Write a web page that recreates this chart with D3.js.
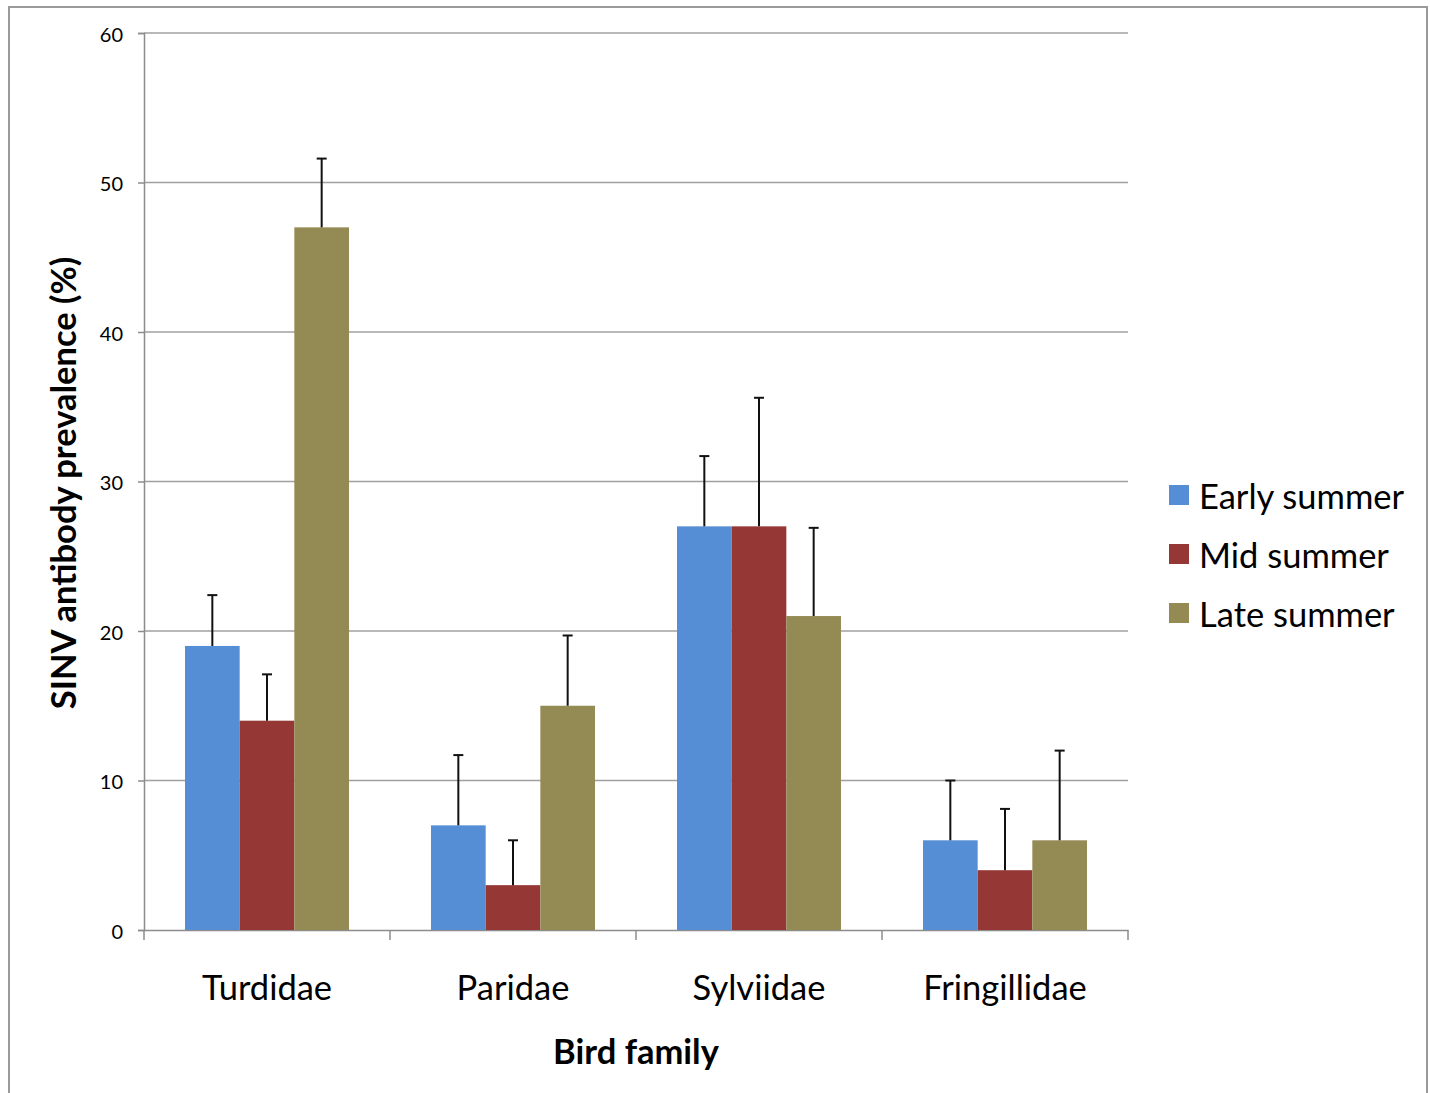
<!DOCTYPE html>
<html>
<head>
<meta charset="utf-8">
<script src="https://cdn.jsdelivr.net/npm/d3@7"></script>
<style>
  body { margin: 0; background: #fff; }
  text { font-family: Lato, "Open Sans", sans-serif; fill: #000; }
</style>
</head>
<body>
<div id="chart"></div>
<script>
// Data
const families = ["Turdidae", "Paridae", "Sylviidae", "Fringillidae"];
const seasons = ["Early summer", "Mid summer", "Late summer"];
const earlyValues = [19, 7, 27, 6];
const midValues = [14, 3, 27, 4];
const lateValues = [47, 15, 21, 6];
const earlyErrTop = [22.4, 11.7, 31.7, 10.0];
const midErrTop = [17.1, 6.0, 35.6, 8.1];
const lateErrTop = [51.6, 19.7, 26.9, 12.0];
const yTicks = [0, 10, 20, 30, 40, 50, 60];

const colors = ["#558ed5", "#953735", "#948a54"];

const width = 1430;
const height = 1093;
const margin = { top: 33, left: 144, right: 302, bottom: 163 };

const rows = [];
families.forEach((f, i) => {
	rows.push({ family: f, season: seasons[0], value: earlyValues[i], err: earlyErrTop[i] });
	rows.push({ family: f, season: seasons[1], value: midValues[i], err: midErrTop[i] });
	rows.push({ family: f, season: seasons[2], value: lateValues[i], err: lateErrTop[i] });
});

const svg = d3
	.select("#chart")
	.append("svg")
	.attr("width", width)
	.attr("height", height);

// Outer frame
svg.append("rect")
	.attr("x", 9)
	.attr("y", 7)
	.attr("width", 1418)
	.attr("height", 1100)
	.attr("fill", "none")
	.attr("stroke", "#9a9a9a")
	.attr("stroke-width", 2);

const x0 = d3
	.scaleBand()
	.domain(families)
	.range([margin.left, width - margin.right])
	.paddingInner(0)
	.paddingOuter(0);

const x1 = d3
	.scaleBand()
	.domain(seasons)
	.range([0, x0.bandwidth()])
	.paddingOuter(0.75)
	.paddingInner(0);

const y = d3
	.scaleLinear()
	.domain([0, 60])
	.range([height - margin.bottom, margin.top]);

const color = d3.scaleOrdinal().domain(seasons).range(colors);

// Gridlines
svg.append("g")
	.selectAll("line")
	.data(yTicks.filter((d) => d > 0))
	.join("line")
	.attr("x1", margin.left)
	.attr("x2", width - margin.right)
	.attr("y1", (d) => y(d))
	.attr("y2", (d) => y(d))
	.attr("stroke", "#a0a0a0")
	.attr("stroke-width", 1.5);

// Y axis
const yAxis = svg.append("g")
	.attr("transform", `translate(${margin.left},0)`)
	.call(d3.axisLeft(y).tickValues(yTicks).tickSize(6).tickPadding(15));
yAxis.select(".domain").attr("stroke", "#8c8c8c").attr("stroke-width", 1.5);
yAxis.selectAll(".tick line").attr("stroke", "#8c8c8c").attr("stroke-width", 1.5);
yAxis.selectAll(".tick text")
	.attr("dy", "0.42em")
	.style("font-family", "Lato, 'Open Sans', sans-serif")
	.style("font-size", "20px")
	.attr("fill", "#000");

// X axis
const xAxis = svg.append("g")
	.attr("transform", `translate(0,${y(0)})`)
	.call(d3.axisBottom(x0).tickSize(0).tickPadding(46));
xAxis.select(".domain").attr("stroke", "#8c8c8c").attr("stroke-width", 1.5);
xAxis.selectAll(".tick text")
	.style("font-family", "Lato, 'Open Sans', sans-serif")
	.style("font-size", "34.5px")
	.attr("fill", "#000");

// Category separators
const sepPositions = families.map((f) => x0(f)).concat([x0.range()[1]]);
xAxis.append("g")
	.selectAll("line")
	.data(sepPositions)
	.join("line")
	.attr("x1", (d) => d)
	.attr("x2", (d) => d)
	.attr("y1", 0)
	.attr("y2", 10)
	.attr("stroke", "#8c8c8c")
	.attr("stroke-width", 1.5);

// Bars
svg.append("g")
	.selectAll("rect")
	.data(rows)
	.join("rect")
	.attr("x", (d) => x0(d.family) + x1(d.season))
	.attr("y", (d) => y(d.value))
	.attr("width", x1.bandwidth())
	.attr("height", (d) => y(0) - y(d.value))
	.attr("fill", (d) => color(d.season));

// Error bars (upper only)
const errG = svg.append("g")
	.selectAll("g")
	.data(rows)
	.join("g")
	.attr("transform", (d) => `translate(${x0(d.family) + x1(d.season) + x1.bandwidth() / 2},0)`);
errG.append("line")
	.attr("x1", 0)
	.attr("x2", 0)
	.attr("y1", (d) => y(d.value))
	.attr("y2", (d) => y(d.err))
	.attr("stroke", "#111")
	.attr("stroke-width", 2);
errG.append("line")
	.attr("x1", -5)
	.attr("x2", 5)
	.attr("y1", (d) => y(d.err))
	.attr("y2", (d) => y(d.err))
	.attr("stroke", "#111")
	.attr("stroke-width", 2);

// Axis titles
svg.append("text")
	.attr("transform", `translate(76,483) rotate(-90)`)
	.attr("text-anchor", "middle")
	.style("font-size", "34.5px")
	.style("font-weight", "bold")
	.text("SINV antibody prevalence (%)");

svg.append("text")
	.attr("x", (x0.range()[0] + x0.range()[1]) / 2)
	.attr("y", 1064)
	.attr("text-anchor", "middle")
	.style("font-size", "34.5px")
	.style("font-weight", "bold")
	.text("Bird family");

// Legend
const legend = svg.append("g")
	.selectAll("g")
	.data(seasons)
	.join("g")
	.attr("transform", (d, i) => `translate(1169,${485 + i * 59})`);
legend.append("rect")
	.attr("width", 20)
	.attr("height", 20)
	.attr("fill", (d) => color(d));
legend.append("text")
	.attr("x", 30)
	.attr("y", 12)
	.attr("dy", "0.36em")
	.style("font-size", "34.5px")
	.text((d) => d);
</script>
</body>
</html>
